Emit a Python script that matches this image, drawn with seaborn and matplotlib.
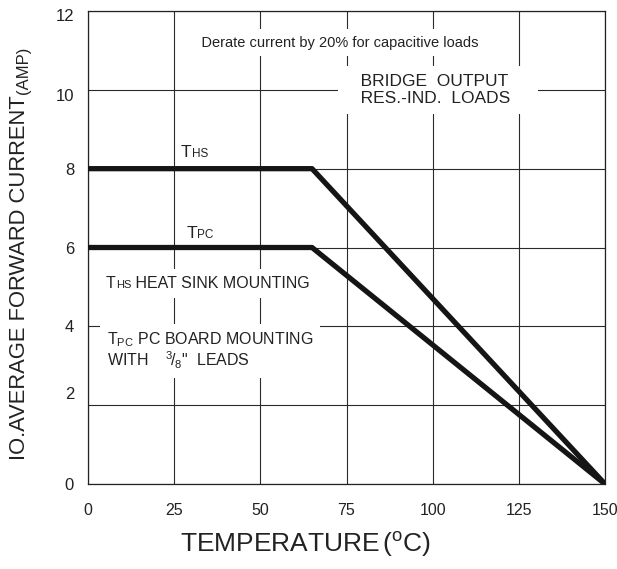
import matplotlib
matplotlib.use("Agg")
import matplotlib.pyplot as plt
import matplotlib.transforms as mtrans
import numpy as np
import pandas as pd
import seaborn as sns

# ---- data ----
temps = [0, 65, 150]
ths_current = [8, 8, 0]
tpc_current = [6, 6, 0]
series_names = ["THS", "TPC"]
x_ticks = [0, 25, 50, 75, 100, 125, 150]
y_ticks = [0, 2, 4, 6, 8, 10, 12]

sns.set_theme(style="white")
plt.rcParams['font.family'] = ['Liberation Sans', 'DejaVu Sans']
plt.rcParams['mathtext.fontset'] = 'custom'
plt.rcParams['mathtext.rm'] = 'Liberation Sans'
plt.rcParams['mathtext.it'] = 'Liberation Sans'
plt.rcParams['mathtext.bf'] = 'Liberation Sans:bold'

TXT = "#222222"

df = pd.DataFrame({
    "temp": temps + temps,
    "current": ths_current + tpc_current,
    "series": [series_names[0]] * len(temps) + [series_names[1]] * len(temps),
})

W, H = 617, 569
fig = plt.figure(figsize=(W / 100, H / 100), dpi=100)
ax = fig.add_axes([88 / W, 1 - 484 / H, (605 - 88) / W, (484 - 11) / H])

sns.lineplot(data=df, x="temp", y="current", hue="series", units="series",
             estimator=None, palette=["#151515", "#151515"], linewidth=3.8,
             legend=False, ax=ax, sort=False, zorder=5)

ax.set_xlim(0, 150)
ax.set_ylim(0, 12)
ax.set_xticks(x_ticks)
ax.set_yticks(y_ticks)
ax.set_axisbelow(True)
ax.grid(True, color="#2a2a2a", linewidth=0.8)
ax.tick_params(length=0, labelsize=12, colors=TXT)
ax.tick_params(axis='x', pad=14, labelsize=11.5)
ax.tick_params(axis='y', pad=10)
ax.set_xlabel("")
ax.set_ylabel("")
for s in ax.spines.values():
    s.set_color("#222222")
    s.set_linewidth(0.9)

white_box = dict(boxstyle="square,pad=0.45", fc="white", ec="none")

# top note
ax.text(73, 11.2, "   Derate current by 20% for capacitive loads   ",
        ha="center", va="center", fontsize=10.5, color=TXT, bbox=white_box, zorder=3)

# bridge output box
ax.text(74.9, 10.0, "   BRIDGE  OUTPUT    \n   RES.-IND.  LOADS    ",
        ha="left", va="center", fontsize=12.5, color=TXT, linespacing=1.2,
        bbox=white_box, zorder=3)

def small_cap_label(x, y, big, small, size_big, size_small, rest=None, box=False):
    t1 = ax.text(x, y, big, ha="left", va="baseline", fontsize=size_big, color=TXT, zorder=4)
    t2 = ax.annotate(small, xy=(1, y), xycoords=(t1, "data"), xytext=(0.3, 0),
                     textcoords="offset points", ha="left", va="baseline",
                     fontsize=size_small, color=TXT, zorder=4)
    if rest is not None:
        ax.annotate(rest, xy=(1, y), xycoords=(t2, "data"), xytext=(0, 0),
                    textcoords="offset points", ha="left", va="baseline",
                    fontsize=size_big, color=TXT, zorder=3,
                    bbox=white_box if box else None)

small_cap_label(27.0, 8.30, "T", "HS", 12.5, 8.5)
small_cap_label(28.5, 6.24, "T", "PC", 12.5, 8.5)
small_cap_label(5.2, 4.97, "T", "HS", 11.5, 8.0, rest=" HEAT SINK MOUNTING", box=True)

ax.text(5.5, 2.99,
        r"T$_{\mathregular{PC}}$ PC BOARD MOUNTING" + "\n" + r"WITH    $^{3}\!/_{8}$" + '"  LEADS',
        ha="left", va="baseline", fontsize=11.5, color=TXT, linespacing=1.0,
        bbox=white_box, zorder=3)

# axis labels
yl = fig.text(20 / W, 1 - 460 / H, "IO.AVERAGE FORWARD CURRENT", rotation=90,
              ha="center", va="bottom", fontsize=15.8, color=TXT)
fig.canvas.draw()
ax.annotate("(AMP)", xy=(1, 1), xycoords=yl, xytext=(0, 1),
            textcoords="offset points", ha="right", va="bottom",
            rotation=90, fontsize=12, color=TXT, annotation_clip=False)

fig.text(180 / W, 1 - 552 / H, r"TEMPERATURE$\,(^{o}C)$", ha="left", va="baseline",
         fontsize=19, color=TXT)

# tick label nudges seen in the reference
fig.canvas.draw()
nudges = {"2": 0.12, "10": -0.05, "12": -0.04}
for lab in ax.get_yticklabels():
    dy = nudges.get(lab.get_text())
    if dy:
        lab.set_transform(lab.get_transform() + mtrans.ScaledTranslation(0, dy, fig.dpi_scale_trans))

fig.savefig("out.png", dpi=100)
